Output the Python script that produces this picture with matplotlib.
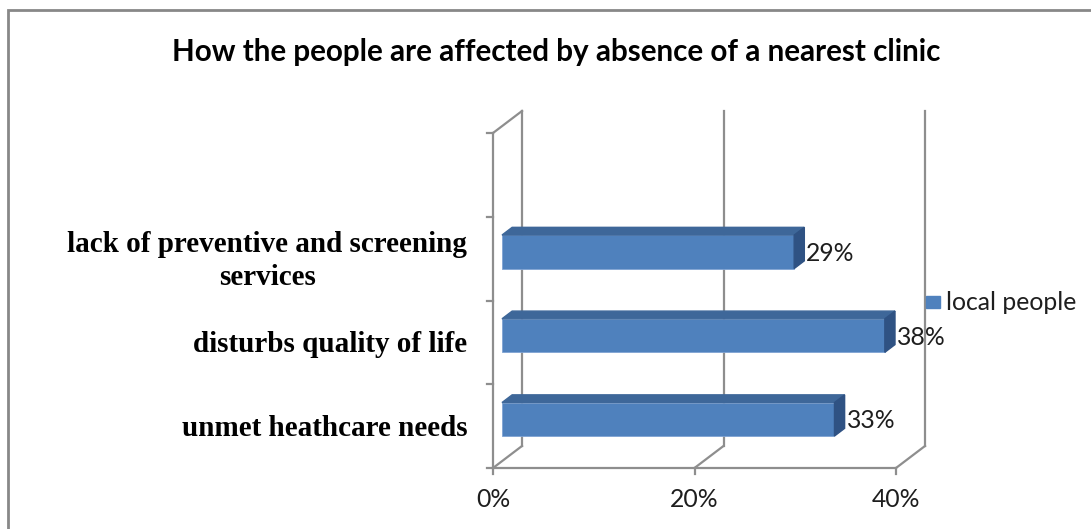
import matplotlib.pyplot as plt
from matplotlib.patches import Rectangle

# dane
categories = ["unmet heathcare needs", "disturbs quality of life",
              "lack of preventive and screening\nservices", ""]
values = [33, 38, 29, None]
xticks = [0, 20, 40]
xtick_labels = ["0%", "20%", "40%"]
series_name = "local people"
title = "How the people are affected by absence of a nearest clinic"

# kolory
front_col = "#4F81BD"
top_col = "#3E6799"
side_col = "#2F5283"
grid_col = "#8E8E8E"

# geometria 3D (przesunięcie głębi w jednostkach danych)
DX, DY = 2.88, 0.263
d0, d1 = 0.31, 0.66
bar_h = 0.4
n_slots = len(categories)
xmax = xticks[-1]

W, H = 1091, 529
fig = plt.figure(figsize=(W / 100, H / 100), dpi=100)
ax = fig.add_axes([0, 0, 1, 1])
ppx, ppy = 10.075, 83.75
ax.set_xlim(-493 / ppx, (W - 493) / ppx)
ax.set_ylim(-61 / ppy, (H - 61) / ppy)
ax.axis("off")

lw = 1.6
# ściany i siatka
for xt in xticks:
    ax.plot([xt, xt + DX], [0, DY], color=grid_col, lw=lw, zorder=1)
    ax.plot([xt + DX, xt + DX], [DY, n_slots + DY], color=grid_col, lw=lw, zorder=1)
    ax.plot([xt, xt], [0, -0.07], color=grid_col, lw=lw, zorder=1)
ax.plot([0, xmax], [0, 0], color=grid_col, lw=lw, zorder=1)
ax.plot([0, 0], [0, n_slots], color=grid_col, lw=lw, zorder=1)
ax.plot([0, DX], [n_slots, n_slots + DY], color=grid_col, lw=lw, zorder=1)
for k in range(n_slots + 1):
    ax.plot([-0.6, 0], [k, k], color=grid_col, lw=lw, zorder=1)

# słupki
idx = [i for i, v in enumerate(values) if v is not None]
vals = [values[i] for i in idx]
ys = [i + 0.5 + d0 * DY for i in idx]
bars = ax.barh(ys, vals, height=bar_h, left=d0 * DX, color=front_col,
               edgecolor="#7FA3D3", linewidth=0.6, zorder=3)
dd = d1 - d0
for b, v in zip(bars, vals):
    x0, y0 = b.get_x(), b.get_y()
    x1, y1 = x0 + b.get_width(), y0 + b.get_height()
    ax.fill([x0, x1, x1 + dd * DX, x0 + dd * DX],
            [y1, y1, y1 + dd * DY, y1 + dd * DY], color=top_col, zorder=3)
    ax.fill([x1, x1 + dd * DX, x1 + dd * DX, x1],
            [y0, y0 + dd * DY, y1 + dd * DY, y1], color=side_col, zorder=3)
    ax.text(x1 + dd * DX + 0.2, (y0 + y1) / 2 - 0.02, f"{v}%",
            fontsize=17.8, family="Lato", color="#1E1E1E",
            ha="left", va="center", zorder=5)

# etykiety osi
for xt, lab in zip(xticks, xtick_labels):
    ax.text(xt, -0.38, lab, fontsize=17.8, family="Lato", color="#1E1E1E",
            ha="center", va="center")
for i, cat in enumerate(categories):
    if cat:
        ax.text(-2.55, i + 0.47, cat, fontsize=21, family="Liberation Serif",
                fontweight="bold", ha="right", va="center",
                multialignment="center", linespacing=1.3)

# legenda
ax.add_patch(Rectangle((43.0, 1.91), 1.39, 0.145, color=front_col,
                       clip_on=False, zorder=4))
ax.text(44.95, 1.98, series_name, fontsize=17.8, family="Lato",
        color="#1E1E1E", ha="left", va="center")

# tytuł i ramka
fig.text(556 / W, 1 - 52 / H, title, fontsize=21.3, family="Lato",
         fontweight="bold", ha="center", va="center")
fig.add_artist(Rectangle((7.5 / W, -0.1), 1.2, 1 - 9.5 / H + 0.1,
                         transform=fig.transFigure, fill=False,
                         edgecolor="#888888", linewidth=2.0))

plt.savefig("out.png", dpi=100)
